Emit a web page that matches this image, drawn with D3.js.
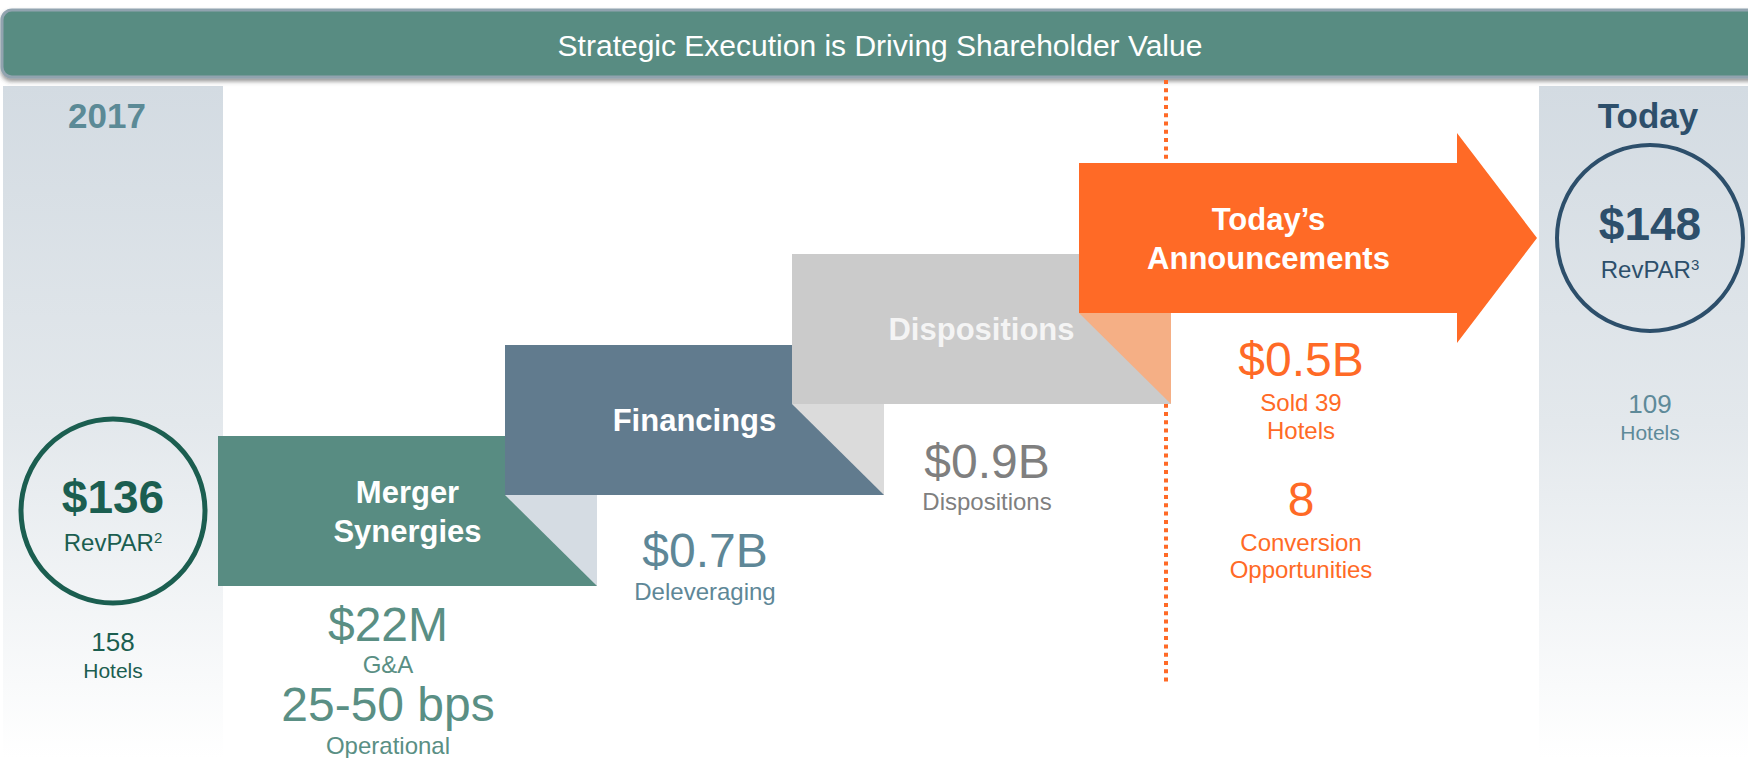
<!DOCTYPE html>
<html>
<head>
<meta charset="utf-8">
<script src="https://cdn.jsdelivr.net/npm/d3@7"></script>
<style>
  html, body { margin: 0; padding: 0; background: #fff; }
  svg { display: block; font-family: "Liberation Sans", Arial, sans-serif; }
</style>
</head>
<body>
<div id="chart"></div>
<script>
// ---- data ----
var title = "Strategic Execution is Driving Shareholder Value";

var steps = ["Merger Synergies", "Financings", "Dispositions", "Today’s Announcements"];
var stepLines = [["Merger", "Synergies"], ["Financings"], ["Dispositions"], ["Today’s", "Announcements"]];
var headline = ["$22M", "$0.7B", "$0.9B", "$0.5B"];
var headlineLabel = [["G&A"], ["Deleveraging"], ["Dispositions"], ["Sold 39", "Hotels"]];
var secondValue = ["25-50 bps", null, null, "8"];
var secondLabel = [["Operational"], [], [], ["Conversion", "Opportunities"]];

var periods = ["2017", "Today"];
var revpar = [136, 148];
var revparNote = ["2", "3"];
var hotels = [158, 109];

// ---- styles / layout ----
var W = 1748, H = 758;
var stepColors = ["#588C82", "#617B8E", "#CBCBCB", "#FF6A26"];
var foldColors = ["#D5DCE3", "#DBDBDB", "#F5AF85"];
var noteColors = ["#5A8F84", "#5E8797", "#7F7F7F", "#FF6A26"];
var periodColors = { label: ["#5B8A96", "#2D4F6B"], main: ["#1B5E50", "#2D4F6B"], hotels: ["#1B5E50", "#5E8A99"] };
var fold = 92, boxH = 150;
var noteDx = [170, 200, 195, 222];
var noteY = [[55, 87, 135, 168], [72, 105], [74, 106], [63, 98, 126, 203, 238, 265]];

var svg = d3.select("#chart").append("svg")
    .attr("width", W).attr("height", H);

var defs = svg.append("defs");
var grad = defs.append("linearGradient").attr("id", "panelGrad")
    .attr("x1", 0).attr("y1", 0).attr("x2", 0).attr("y2", 1);
grad.append("stop").attr("offset", "0%").attr("stop-color", "#D3DBE2");
grad.append("stop").attr("offset", "50%").attr("stop-color", "#E3E8EC");
grad.append("stop").attr("offset", "100%").attr("stop-color", "#FFFFFF");

var shadow = defs.append("filter").attr("id", "shadow")
    .attr("x", "-5%").attr("y", "-20%").attr("width", "110%").attr("height", "160%");
shadow.append("feDropShadow").attr("dx", 0).attr("dy", 3).attr("stdDeviation", 2)
    .attr("flood-color", "#444").attr("flood-opacity", 0.55);

// scales
var x = d3.scaleBand().domain(steps).range([218, 218 + 4 * 287]);
var y = d3.scaleLinear().domain([0, steps.length - 1]).range([436, 163]);
var px = d3.scalePoint().domain(periods).range([113, 1650]);
var py = d3.scalePoint().domain(periods).range([511, 238]);

// side panels
svg.append("rect").attr("x", 3).attr("y", 86).attr("width", 220).attr("height", H - 86)
    .attr("fill", "url(#panelGrad)");
svg.append("rect").attr("x", 1539).attr("y", 86).attr("width", W - 1539).attr("height", H - 86)
    .attr("fill", "url(#panelGrad)");

// header band
svg.append("rect")
    .attr("x", 2).attr("y", 10).attr("width", W + 20).attr("height", 67).attr("rx", 10)
    .attr("fill", "#588C82").attr("stroke", "#91A3AF").attr("stroke-width", 3)
    .attr("filter", "url(#shadow)");
svg.append("text")
    .attr("x", 880).attr("y", 56).attr("text-anchor", "middle")
    .attr("fill", "#fff").attr("font-size", 30)
    .text(title);

// dotted divider
svg.append("line")
    .attr("x1", 1166).attr("x2", 1166).attr("y1", 80).attr("y2", 682)
    .attr("stroke", "#FF6A26").attr("stroke-width", 4).attr("stroke-dasharray", "4,4.3");

// step shapes
var bw = x.bandwidth();
steps.forEach(function(s, i) {
  var x0 = x(s), y0 = y(i), x1 = x0 + bw + fold, y1 = y0 + boxH;
  var pts;
  if (i < steps.length - 1) {
    pts = [[x0, y0], [x1, y0], [x1, y1], [x0, y1]];
  } else {
    var xr = x0 + 378, head = 30, tip = 80;
    pts = [[x0, y0], [xr, y0], [xr, y0 - head], [xr + tip, y0 + boxH / 2],
           [xr, y1 + head], [xr, y1], [x0, y1]];
  }
  svg.append("polygon").attr("points", pts.join(" ")).attr("fill", stepColors[i]);
  if (i < steps.length - 1) {
    var tri = [[x1 - fold, y1 - fold + 1], [x1, y1 - fold + 1], [x1, y1]];
    svg.append("polygon").attr("points", tri.join(" ")).attr("fill", foldColors[i]);
  }
});

// step titles
steps.forEach(function(s, i) {
  var cx = x(s) + (bw + fold) / 2;
  var lines = stepLines[i];
  var cy = y(i) + boxH / 2;
  var lh = 39;
  var first = cy + 11 - (lines.length - 1) * lh / 2;
  var t = svg.append("text").attr("text-anchor", "middle")
      .attr("fill", i === 2 ? "#F4F4F4" : "#fff")
      .attr("font-size", 31).attr("font-weight", "bold");
  lines.forEach(function(l, k) {
    t.append("tspan").attr("x", cx).attr("y", first + k * lh).text(l);
  });
});

// notes under steps
steps.forEach(function(s, i) {
  var items = [{ t: headline[i], big: true }];
  headlineLabel[i].forEach(function(l) { items.push({ t: l }); });
  if (secondValue[i]) items.push({ t: secondValue[i], big: true });
  secondLabel[i].forEach(function(l) { items.push({ t: l }); });
  var cx = x(s) + noteDx[i];
  var base = y(i) + boxH;
  svg.selectAll(null).data(items).enter().append("text")
    .attr("x", cx)
    .attr("y", function(d, k) { return base + noteY[i][k]; })
    .attr("text-anchor", "middle")
    .attr("fill", noteColors[i])
    .attr("font-size", function(d) { return d.big ? 48 : 24; })
    .text(function(d) { return d.t; });
});

// period panels: label, RevPAR circle, hotel count
var labelDx = [-6, -2];
periods.forEach(function(p, i) {
  var cx = px(p), cy = py(p);
  svg.append("text").attr("x", cx + labelDx[i]).attr("y", 128)
    .attr("text-anchor", "middle").attr("font-size", 35).attr("font-weight", "bold")
    .attr("fill", periodColors.label[i]).text(p);
  svg.append("circle").attr("cx", cx).attr("cy", cy).attr("r", i === 0 ? 92 : 93)
    .attr("fill", "none").attr("stroke", periodColors.main[i]).attr("stroke-width", i === 0 ? 5 : 4);
  svg.append("text").attr("x", cx).attr("y", cy + 2)
    .attr("text-anchor", "middle").attr("font-size", 46).attr("font-weight", "bold")
    .attr("fill", periodColors.main[i]).text("$" + revpar[i]);
  var rv = svg.append("text").attr("x", cx).attr("y", cy + 40)
    .attr("text-anchor", "middle").attr("font-size", 24)
    .attr("fill", periodColors.main[i]);
  rv.append("tspan").text("RevPAR");
  rv.append("tspan").attr("font-size", 15).attr("dy", -8).text(revparNote[i]);
  var hy = i === 0 ? 651 : 413;
  svg.append("text").attr("x", cx).attr("y", hy)
    .attr("text-anchor", "middle").attr("font-size", 26)
    .attr("fill", periodColors.hotels[i]).text(hotels[i]);
  svg.append("text").attr("x", cx).attr("y", hy + 27)
    .attr("text-anchor", "middle").attr("font-size", 21)
    .attr("fill", periodColors.hotels[i]).text("Hotels");
});
</script>
</body>
</html>
